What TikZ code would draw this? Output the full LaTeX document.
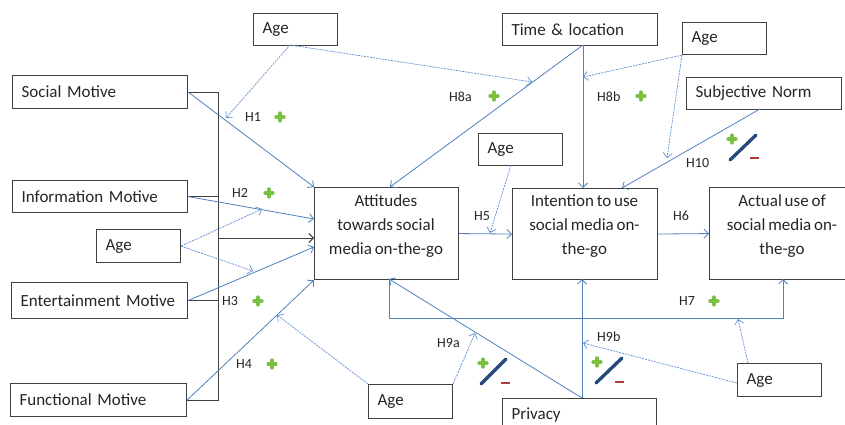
\documentclass[tikz,border=0pt]{standalone}
\usepackage{fontspec}
\setmainfont{Carlito}
\usetikzlibrary{arrows.meta}
\definecolor{bordc}{HTML}{404040}
\definecolor{txtc}{HTML}{262626}
\definecolor{bluec}{HTML}{4F81BD}
\definecolor{dashc}{HTML}{5B8FD0}
\definecolor{plusc}{HTML}{7AC143}
\definecolor{minc}{HTML}{AD3B3B}
\definecolor{slashc}{HTML}{24497A}
\newcommand{\boxfnt}{\fontsize{17}{24}\selectfont\spaceskip=2.8pt plus 1pt minus 0.5pt\relax}
\newcommand{\labfnt}{\fontsize{14}{16}\selectfont\spaceskip=2.5pt\relax}
\tikzset{
 box/.style={draw=bordc, line width=1.1pt, fill=white, anchor=north west, inner xsep=9pt, inner ysep=0pt, align=left, font=\boxfnt, text=txtc},
 bigbox/.style={draw=bordc, line width=1.1pt, fill=white, anchor=north west, inner sep=0pt},
 mtext/.style={align=center, font=\boxfnt, text=txtc, inner sep=0pt},
 hlab/.style={anchor=west, font=\labfnt, text=txtc, inner sep=0pt},
 ar/.style={draw=bluec, line width=0.8pt, -{Straight Barb[length=4.5pt,width=9pt]}},
 dar/.style={draw=dashc, line width=0.7pt, dash pattern=on 2pt off 1pt, -{Straight Barb[length=4.5pt,width=9pt]}},
 blk/.style={draw=bordc, line width=1pt},
 plusg/.pic={\draw[plusc, line width=4.5pt, line cap=round] (-3.4,0)--(3.4,0) (0,-3.4)--(0,3.4);},
 minusr/.pic={\draw[minc, line width=2.8pt] (-4.5,0)--(4.5,0);},
}
\begin{document}
\begin{tikzpicture}[x=1pt,y=-1pt]
\useasboundingbox (0,0) rectangle (845,425);
\clip (0,0) rectangle (845,425);
\fill[white] (0,0) rectangle (845,425);

% boxes
\node[box, text width=66pt, minimum height=32pt] (ageT) at (253,13) {Age};
\node[box, text width=137pt, minimum height=32pt] (tl) at (502,13) {Time \& location};
\node[box, text width=66pt, minimum height=32pt] (ageTR) at (682,22) {Age};
\node[box, text width=137pt, minimum height=32pt] (sn) at (686,77) {Subjective Norm};
\node[box, text width=157pt, minimum height=33pt] (sm) at (12,75) {Social Motive};
\node[box, text width=157pt, minimum height=32pt] (im) at (12,180) {Information Motive};
\node[box, text width=66pt, minimum height=33pt] (ageL) at (96,229) {Age};
\node[box, text width=158pt, minimum height=36pt] (em) at (11,282) {Entertainment Motive};
\node[box, text width=158pt, minimum height=33pt] (fm) at (10,383) {Functional Motive};
\node[box, text width=66pt, minimum height=32pt] (ageM) at (478,133) {Age};
\node[box, text width=66pt, minimum height=34pt] (ageB) at (368,384) {Age};
\node[box, text width=136pt, minimum height=32pt] (pr) at (502,398) {Privacy};
\node[box, text width=66pt, minimum height=33pt] (ageBR) at (737,363) {Age};

\node[bigbox, minimum width=144pt, minimum height=92pt] (att) at (314,187) {};
\node[bigbox, minimum width=145pt, minimum height=91pt] (int) at (512,188) {};
\node[bigbox, minimum width=146pt, minimum height=92pt] (act) at (709,187) {};
\node[mtext] (attT) at (386,226) {Attitudes\\towards social\\media on-the-go};
\node[mtext] (intT) at (584.5,226) {Intention to use\\social media on-\\the-go};
\node[mtext] (actT) at (782,226) {Actual use of\\social media on-\\the-go};

% coordinates
\coordinate (brx) at (218,0);
\coordinate (bkin) at (314,238);
\coordinate (a2) at (314,219);
\coordinate (a3) at (314,247);
\coordinate (tlb) at (583,45);
\coordinate (attTop) at (390,187);
\coordinate (intTop) at (583,188);
\coordinate (snb) at (760,109);
\coordinate (intTL) at (622,188);
\coordinate (prT) at (582,398);
\coordinate (attB) at (389,279);
\coordinate (intB) at (582,279);
\coordinate (actB) at (783,279);
\coordinate (h7l) at (389,318);
\coordinate (h7r) at (783,318);
\coordinate (ageTb) at (290,45);
\coordinate (m1) at (226,118);
\coordinate (m8a) at (532,82);
\coordinate (m2) at (262,209);
\coordinate (m3) at (253,271);
\coordinate (ageMb) at (511,165);
\coordinate (m5) at (490,233);
\coordinate (m8b) at (583,77);
\coordinate (m10) at (667,158);
\coordinate (m4) at (277,315);
\coordinate (m9a) at (475,333);
\coordinate (ageBRt) at (748,363);
\coordinate (m7) at (738,319);
\coordinate (ageBRl) at (737,383);
\coordinate (m9b) at (583,343);

% black bracket
\draw[blk] (sm.east) -| (brx |- fm.east) -- (fm.east);
\draw[blk] (im.east) -- (im.east -| brx);
\draw[blk] (em.east) -- (em.east -| brx);
\draw[blk, -{Straight Barb[length=4.5pt,width=9pt]}] (brx |- bkin) -- (bkin);

% blue solid arrows
\draw[ar] (sm.east) -- (att.north west);
\draw[ar] (im.east) -- (a2);
\draw[ar] (em.east) -- (a3);
\draw[ar] (fm.east) -- (att.south west);
\draw[ar] (tlb) -- (attTop);
\draw[ar] (tlb) -- (intTop);
\draw[ar] (att.east) -- (int.west);
\draw[ar] (int.east) -- (act.west);
\draw[ar] (snb) -- (intTL);
\draw[ar] (prT) -- (attB);
\draw[ar] (prT) -- (intB);
\draw[ar] (attB) -- (h7l) -- (h7r) -- (actB);

% dashed moderators
\draw[dar] (ageTb) -- (m1);
\draw[dar] (ageTb) -- (m8a);
\draw[dar] (ageL.east) -- (m2);
\draw[dar] (ageL.east) -- (m3);
\draw[dar] (ageMb) -- (m5);
\draw[dar] (ageTR.south west) -- (m8b);
\draw[dar] (ageTR.south west) -- (m10);
\draw[dar] (ageB.north west) -- (m4);
\draw[dar] (ageB.north east) -- (m9a);
\draw[dar] (ageBRt) -- (m7);
\draw[dar] (ageBRl) -- (m9b);

% labels
\node[hlab] (h1) at (245,117) {H1};
\node[hlab] (h2) at (232,193) {H2};
\node[hlab] (h3) at (222,301) {H3};
\node[hlab] (h4) at (236,364) {H4};
\node[hlab] (h5) at (474,216) {H5};
\node[hlab] (h6) at (673,216) {H6};
\node[hlab] (h7) at (679,301) {H7};
\node[hlab] (h8a) at (449,97) {H8a};
\node[hlab] (h8b) at (597,97) {H8b};
\node[hlab] (h9a) at (437,343) {H9a};
\node[hlab] (h9b) at (597,337) {H9b};
\node[hlab] (h10) at (686,163) {H10};

% signs
\pic at (280,117) {plusg};
\pic at (269,193) {plusg};
\pic at (258,301) {plusg};
\pic at (272,364) {plusg};
\pic at (494,96) {plusg};
\pic at (641,96) {plusg};
\pic at (714,301) {plusg};
\pic at (732,139) {plusg};
\pic at (483,363) {plusg};
\pic at (597,362) {plusg};
\draw[slashc, line width=3.3pt, line cap=round] (730,160) -- (756,135);
\draw[slashc, line width=3.3pt, line cap=round] (481,384) -- (506,359);
\draw[slashc, line width=3.3pt, line cap=round] (596,383) -- (622,358);
\pic at (754,158) {minusr};
\pic at (505,383) {minusr};
\pic at (619,382) {minusr};
\end{tikzpicture}
\end{document}
